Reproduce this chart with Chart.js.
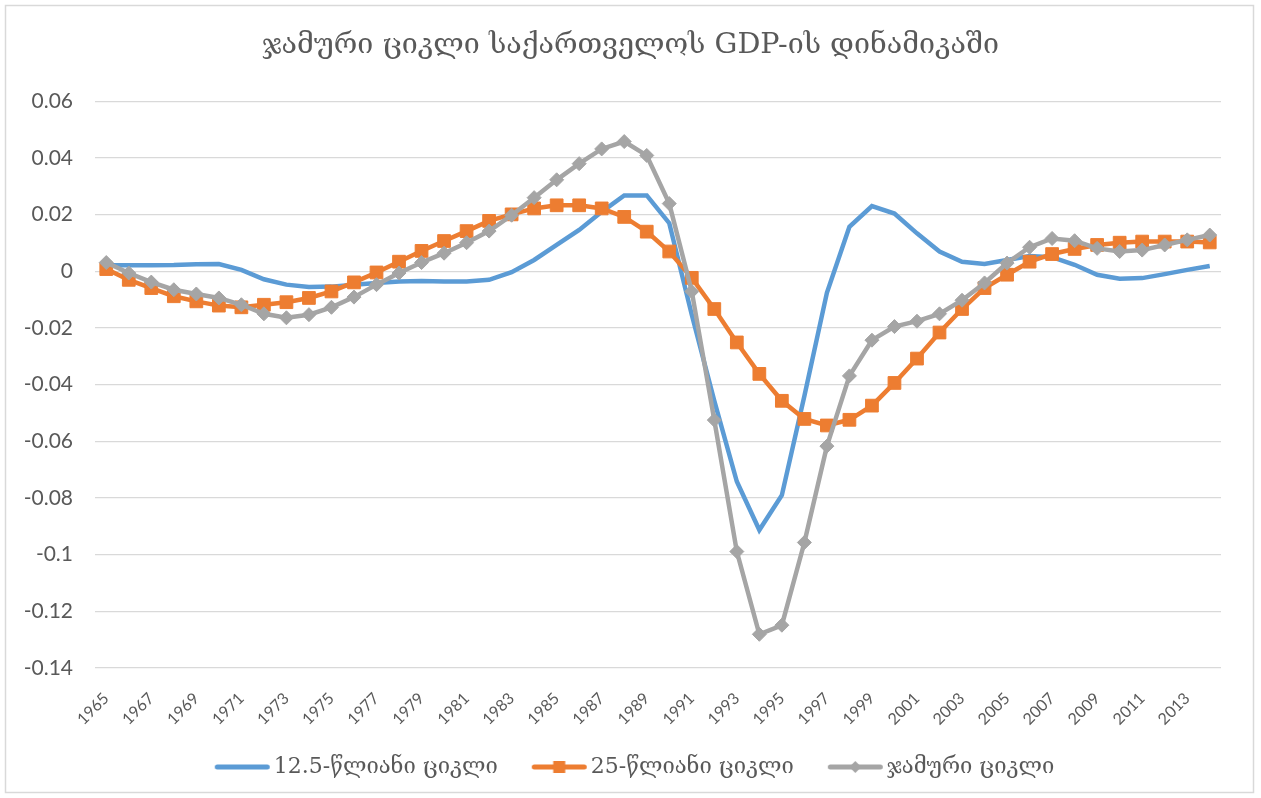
<!DOCTYPE html>
<html>
<head>
<meta charset="utf-8">
<script src="https://cdn.jsdelivr.net/npm/chart.js@4.4.1/dist/chart.umd.min.js"></script>
<style>
  html, body { margin: 0; padding: 0; background: #fff; }
  #wrap { width: 1261px; height: 798px; position: relative; }
</style>
</head>
<body>
<div id="wrap"><canvas id="gdpChart"></canvas></div>
<script>
// years on the category axis
var years = [];
for (var y = 1965; y <= 2014; y++) years.push(String(y));

// 12.5-year cycle
var cycle12 = [0.0021, 0.0021, 0.0021, 0.0022, 0.0025, 0.0026, 0.0005, -0.0028, -0.0047, -0.0055,
               -0.0054, -0.0047, -0.0041, -0.0036, -0.0034, -0.0036, -0.0036, -0.0030, -0.0003, 0.0040,
               0.0093, 0.0146, 0.0210, 0.0268, 0.0268, 0.0170, -0.0153, -0.0457, -0.0742, -0.0913,
               -0.0790, -0.0440, -0.0076, 0.0157, 0.0230, 0.0204, 0.0134, 0.0070, 0.0034, 0.0026,
               0.0040, 0.0054, 0.0050, 0.0023, -0.0012, -0.0026, -0.0024, -0.0010, 0.0005, 0.0019];

// 25-year cycle
var cycle25 = [0.0008, -0.0030, -0.0059, -0.0088, -0.0106, -0.0121, -0.0127, -0.0118, -0.0109, -0.0094,
               -0.0071, -0.0039, -0.0004, 0.0034, 0.0072, 0.0107, 0.0142, 0.0178, 0.0201, 0.0222,
               0.0233, 0.0233, 0.0222, 0.0192, 0.0140, 0.0070, -0.0023, -0.0133, -0.0251, -0.0362,
               -0.0457, -0.0521, -0.0544, -0.0524, -0.0474, -0.0394, -0.0308, -0.0216, -0.0133, -0.0059,
               -0.0012, 0.0034, 0.0061, 0.0079, 0.0093, 0.0101, 0.0105, 0.0105, 0.0105, 0.0102];

// total cycle
var cycleTotal = [0.0031, -0.0006, -0.0038, -0.0065, -0.0080, -0.0094, -0.0118, -0.0150, -0.0164, -0.0153,
                  -0.0127, -0.0091, -0.0047, -0.0006, 0.0031, 0.0064, 0.0101, 0.0142, 0.0198, 0.0260,
                  0.0323, 0.0380, 0.0432, 0.0458, 0.0409, 0.0239, -0.0071, -0.0525, -0.0989, -0.1281,
                  -0.1249, -0.0957, -0.0617, -0.0369, -0.0243, -0.0195, -0.0176, -0.0150, -0.0102, -0.0041,
                  0.0029, 0.0085, 0.0116, 0.0108, 0.0081, 0.0070, 0.0075, 0.0093, 0.0111, 0.0128];

var seriesNames = ['12.5-წლიანი ციკლი', '25-წლიანი ციკლი', 'ჯამური ციკლი'];
var titleText = 'ჯამური ციკლი საქართველოს GDP-ის დინამიკაში';

var blue = '#5B9BD5', orange = '#ED7D31', grey = '#A5A5A5';
var textGrey = '#595959';
var geoFont = '"DejaVu Serif", "DejaVu Sans", serif';

// line+marker pictures for the legend (left part transparent = gap to previous item)
function legendIcon(color, marker) {
    var c = document.createElement('canvas');
    c.width = 72; c.height = 16;
    var g = c.getContext('2d');
    g.strokeStyle = color;
    g.fillStyle = color;
    g.lineWidth = 5;
    g.lineCap = 'round';
    g.beginPath(); g.moveTo(18.5, 8); g.lineTo(68.5, 8); g.stroke();
    if (marker === 'rect') {
        g.fillRect(37.5, 2, 12, 12);
    } else if (marker === 'diamond') {
        g.beginPath();
        g.moveTo(43.5, 2); g.lineTo(49.5, 8); g.lineTo(43.5, 14); g.lineTo(37.5, 8);
        g.closePath(); g.fill();
    }
    return c;
}
var icons = [legendIcon(blue), legendIcon(orange, 'rect'), legendIcon(grey, 'diamond')];

var frame = {
    id: 'frame',
    beforeDraw: function(chart) {
        var ctx = chart.ctx;
        ctx.save();
        ctx.fillStyle = '#fff';
        ctx.fillRect(0, 0, chart.width, chart.height);
        ctx.strokeStyle = '#D9D9D9';
        ctx.lineWidth = 1.5;
        ctx.strokeRect(5.5, 5.5, 1248, 787);
        ctx.restore();
    }
};

var ctx = document.getElementById('gdpChart').getContext('2d');
var chart = new Chart(ctx, {
    type: 'line',
    data: {
        labels: years,
        datasets: [{
            label: seriesNames[0],
            data: cycle12,
            borderColor: blue,
            backgroundColor: blue,
            borderWidth: 4.5,
            pointRadius: 0,
            tension: 0,
            order: 2
        }, {
            label: seriesNames[1],
            data: cycle25,
            borderColor: orange,
            backgroundColor: orange,
            borderWidth: 4.5,
            pointStyle: 'rect',
            pointRadius: 9,
            pointBorderWidth: 1,
            pointBackgroundColor: orange,
            pointBorderColor: orange,
            tension: 0,
            order: 1
        }, {
            label: seriesNames[2],
            data: cycleTotal,
            borderColor: grey,
            backgroundColor: grey,
            borderWidth: 4.5,
            pointStyle: 'rectRot',
            pointRadius: 7,
            pointBorderWidth: 1,
            pointBackgroundColor: grey,
            pointBorderColor: grey,
            tension: 0,
            order: 0
        }]
    },
    options: {
        responsive: true,
        maintainAspectRatio: false,
        animation: false,
        layout: { padding: { top: 6, right: 0, bottom: 10, left: 0 } },
        plugins: {
            tooltip: { enabled: false },
            title: {
                display: true,
                text: titleText,
                color: textGrey,
                font: { family: geoFont, size: 28.6, weight: 'normal' },
                padding: { top: 22, bottom: 39 }
            },
            legend: {
                position: 'bottom',
                labels: {
                    color: textGrey,
                    font: { family: geoFont, size: 22 },
                    usePointStyle: true,
                    pointStyleWidth: 56,
                    padding: 26,
                    sort: function(a, b) { return a.datasetIndex - b.datasetIndex; },
                    generateLabels: function(ch) {
                        var items = Chart.defaults.plugins.legend.labels.generateLabels(ch);
                        items.forEach(function(it) { it.pointStyle = icons[it.datasetIndex]; });
                        return items;
                    }
                }
            }
        },
        scales: {
            x: {
                offset: true,
                grid: { display: false },
                border: { display: false },
                ticks: {
                    autoSkip: false,
                    minRotation: 45,
                    maxRotation: 45,
                    color: textGrey,
                    font: { family: 'Lato', size: 16 },
                    padding: 13,
                    callback: function(val, idx) { return idx % 2 === 0 ? years[idx] : ''; }
                },
                afterFit: function(scale) { scale.height = 62; }
            },
            y: {
                min: -0.14,
                max: 0.06,
                grid: { color: '#D9D9D9', lineWidth: 1.3, drawTicks: false },
                border: { display: false },
                ticks: {
                    stepSize: 0.02,
                    color: textGrey,
                    font: { family: 'Lato', size: 21 },
                    padding: 22,
                    callback: function(v) { return String(Math.round(v * 100) / 100); }
                },
                afterFit: function(scale) { scale.width = 95; }
            },
            // empty right-hand axis: only keeps the plot clear of the right edge
            yRight: {
                position: 'right',
                grid: { display: false },
                border: { display: false },
                ticks: { display: false },
                afterFit: function(scale) { scale.width = 40; }
            }
        }
    },
    plugins: [frame]
});
</script>
</body>
</html>
